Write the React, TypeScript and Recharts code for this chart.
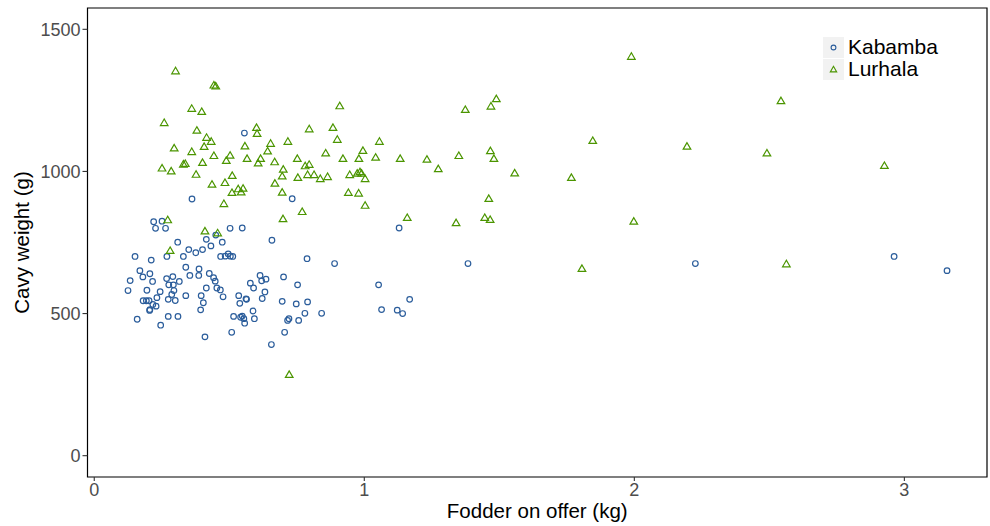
import { ScatterChart, Scatter, XAxis, YAxis, ReferenceArea, Legend, Label } from "recharts";

// Kabamba (open circles)
const kabambaFodder = [
  0.556, 0.362, 0.733, 0.548, 1.129, 0.658, 0.788, 0.89, 1.053, 0.701, 0.753, 0.614, 0.578,
  0.59, 0.62, 0.636, 0.632, 0.622, 0.564, 0.696, 0.748, 0.79, 0.588, 0.593, 0.716, 0.721,
  0.757, 0.78, 0.842, 0.705, 0.656, 1.064, 1.122, 1.142, 1.168, 1.384, 2.226, 2.962, 3.158,
  0.22, 0.251, 0.227, 0.264, 0.503, 0.309, 0.415, 0.474, 0.45, 0.432, 0.401, 0.376, 0.35,
  0.33, 0.269, 0.151, 0.211, 0.468, 0.485, 0.496, 0.504, 0.513, 0.339, 0.388, 0.387, 0.354,
  0.426, 0.442, 0.448, 0.169, 0.206, 0.18, 0.133, 0.216, 0.268, 0.291, 0.276, 0.293, 0.315,
  0.295, 0.244, 0.195, 0.125, 0.415, 0.454, 0.467, 0.339, 0.396, 0.477, 0.287, 0.232, 0.274,
  0.3, 0.181, 0.193, 0.203, 0.404, 0.217, 0.229, 0.206, 0.205, 0.394, 0.535, 0.562, 0.539,
  0.159, 0.274, 0.31, 0.246, 0.516, 0.542, 0.548, 0.554, 0.557, 0.509, 0.41,
];
const kabambaWeight = [
  1135, 903, 904, 801, 801, 758, 693, 676, 601, 629, 601, 634, 607,
  590, 615, 621, 576, 553, 550, 543, 534, 541, 509, 482, 476, 482,
  476, 501, 501, 434, 391, 514, 512, 500, 550, 676, 676, 701, 651,
  823, 825, 800, 800, 800, 751, 761, 751, 776, 738, 725, 714, 725,
  701, 701, 701, 688, 701, 702, 710, 702, 701, 663, 657, 634, 634,
  641, 626, 614, 651, 640, 629, 616, 613, 623, 630, 601, 601, 613,
  581, 577, 582, 581, 590, 590, 583, 563, 563, 559, 567, 556, 550,
  546, 545, 545, 545, 538, 532, 526, 514, 511, 513, 563, 552, 536,
  480, 490, 490, 459, 490, 487, 491, 482, 466, 434, 418,
];

// Lurhala (open triangles)
const lurhalaFodder = [
  0.301, 0.443, 0.45, 0.361, 0.398, 0.259, 0.38, 0.416, 0.433, 0.407, 0.296, 0.361, 0.443,
  0.503, 0.489, 0.401, 0.33, 0.337, 0.251, 0.285, 0.377, 0.511, 0.484, 0.436, 0.533, 0.551,
  0.544, 0.51, 0.909, 0.601, 0.603, 0.796, 0.884, 0.558, 0.653, 0.717, 0.9, 1.056, 0.995,
  0.642, 0.857, 0.566, 0.616, 0.607, 0.668, 0.752, 0.921, 0.98, 1.042, 1.133, 0.7, 0.781,
  0.796, 0.696, 0.754, 0.79, 0.814, 0.837, 0.864, 0.946, 0.974, 0.984, 0.99, 1.003, 0.669,
  0.696, 0.941, 0.979, 1.003, 0.77, 0.699, 0.48, 0.272, 0.41, 0.457, 0.281, 0.722, 1.989,
  1.489, 1.469, 1.374, 1.846, 2.195, 1.232, 1.35, 1.467, 1.48, 1.274, 1.557, 1.767, 1.461,
  1.159, 1.34, 1.446, 1.466, 1.998, 1.806, 2.543, 2.491, 2.926, 2.563,
];
const lurhalaWeight = [
  1353, 1303, 1300, 1221, 1210, 1171, 1144, 1119, 1105, 1087, 1082, 1069, 1055,
  1056, 1038, 1031, 1025, 1027, 1011, 1001, 989, 985, 960, 954, 938, 940,
  927, 925, 1230, 1154, 1133, 1149, 1154, 1089, 1098, 1105, 1112, 1105, 1073,
  1071, 1064, 1045, 1045, 1029, 1033, 1045, 1045, 1045, 1049, 1045, 1007, 1019,
  1024, 983, 978, 988, 988, 974, 981, 988, 993, 998, 993, 974, 958,
  926, 925, 923, 880, 858, 833, 886, 829, 790, 783, 721, 285, 1404,
  1255, 1229, 1217, 1108, 1088, 1042, 1055, 1072, 1045, 1009, 994, 978, 904,
  837, 819, 837, 830, 824, 658, 1248, 1064, 1020, 674,
];

const xTicks = [0, 1, 2, 3];
const yTicks = [0, 500, 1000, 1500];

const BLUE = "#2b5d9b";
const GREEN = "#4b9500";
const FONT = "'Liberation Sans', Arial, sans-serif";

const kabamba = kabambaFodder.map((x, i) => ({ x, y: kabambaWeight[i] }));
const lurhala = lurhalaFodder.map((x, i) => ({ x, y: lurhalaWeight[i] }));

const CircleDot = (props: any) => (
  <circle cx={props.cx} cy={props.cy} r={2.8} fill="none" stroke={BLUE} strokeWidth={1.2} />
);

const TriangleDot = (props: any) => {
  const { cx, cy } = props;
  return (
    <polygon
      points={`${cx},${cy - 3.8} ${cx - 3.8},${cy + 2.7} ${cx + 3.8},${cy + 2.7}`}
      fill="none"
      stroke={GREEN}
      strokeWidth={1.2}
    />
  );
};

const legendItems = [
  { name: "Kabamba", kind: "circle" },
  { name: "Lurhala", kind: "triangle" },
];

const LegendBox = () => (
  <div style={{ fontFamily: FONT, fontSize: 21, color: "#000" }}>
    {legendItems.map((it) => (
      <div key={it.name} style={{ display: "flex", alignItems: "center", height: 22 }}>
        <svg width={21} height={21} style={{ marginRight: 4 }}>
          <rect x={0} y={0} width={21} height={21} fill="#f2f2f2" />
          {it.kind === "circle" ? (
            <circle cx={10.5} cy={10.5} r={2.4} fill="none" stroke={BLUE} strokeWidth={1.1} />
          ) : (
            <polygon points="10.5,7.3 7.3,12.9 13.7,12.9" fill="none" stroke={GREEN} strokeWidth={1.1} />
          )}
        </svg>
        <span>{it.name}</span>
      </div>
    ))}
  </div>
);

const YTitle = (props: any) => {
  const vb = props.viewBox;
  const cy = vb.y + vb.height / 2;
  return (
    <text
      x={29}
      y={cy}
      transform={`rotate(-90, 29, ${cy})`}
      textAnchor="middle"
      fontFamily={FONT}
      fontSize={20.5}
      fill="#000"
    >
      Cavy weight (g)
    </text>
  );
};

const App = () => {
  return (
    <div style={{ position: "absolute", left: 0, top: 0, background: "#fff" }}>
      <ScatterChart width={990} height={526} margin={{ top: 8, right: 3, bottom: 0, left: 0 }}>
        <XAxis
          type="number"
          dataKey="x"
          domain={[-0.025, 3.306]}
          ticks={xTicks}
          allowDataOverflow
          height={49}
          axisLine={false}
          tickLine={{ stroke: "#333", strokeWidth: 1.1 }}
          tickSize={4}
          tickMargin={2}
          tick={{ fill: "#4d4d4d", fontSize: 18, fontFamily: FONT }}
        >
          <Label
            value="Fodder on offer (kg)"
            position="insideBottom"
            offset={8}
            style={{ fill: "#000", fontSize: 20.5, fontFamily: FONT }}
          />
        </XAxis>
        <YAxis
          type="number"
          dataKey="y"
          domain={[-75, 1575]}
          ticks={yTicks}
          allowDataOverflow
          width={87.5}
          axisLine={false}
          tickLine={{ stroke: "#333", strokeWidth: 1.1 }}
          tickSize={5}
          tickMargin={2}
          tick={{ fill: "#4d4d4d", fontSize: 18, fontFamily: FONT }}
        >
          <Label content={<YTitle />} />
        </YAxis>
        <Scatter name="Kabamba" data={kabamba} shape={<CircleDot />} isAnimationActive={false} />
        <Scatter name="Lurhala" data={lurhala} shape={<TriangleDot />} isAnimationActive={false} />
        <ReferenceArea
          x1={-0.025}
          x2={3.306}
          y1={-75}
          y2={1575}
          fill="none"
          stroke="#000"
          strokeWidth={1.2}
          ifOverflow="visible"
        />
        <Legend
          layout="vertical"
          align="center"
          verticalAlign="middle"
          content={<LegendBox />}
          wrapperStyle={{ position: "absolute", left: 823, top: 36, width: 140, height: 44 }}
        />
      </ScatterChart>
    </div>
  );
};

export default App;
